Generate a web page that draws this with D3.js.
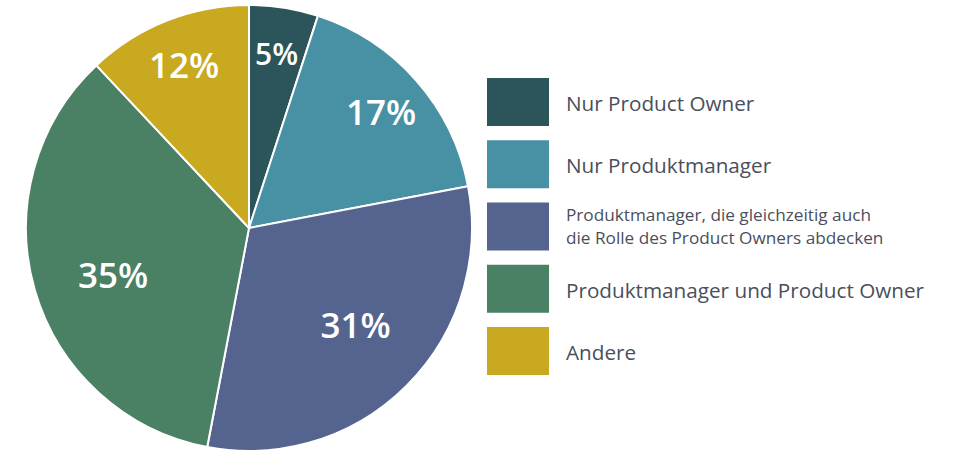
<!DOCTYPE html>
<html><head><meta charset="utf-8">
<script src="https://cdn.jsdelivr.net/npm/d3@7"></script>
<style>html,body{margin:0;padding:0;background:#fff;}svg{display:block;}</style>
</head><body>
<svg id="chart" width="967" height="458"></svg>
<script>
const categories = [
  "Nur Product Owner",
  "Nur Produktmanager",
  "Produktmanager, die gleichzeitig auch|die Rolle des Product Owners abdecken",
  "Produktmanager und Product Owner",
  "Andere"
];
const values = [5, 17, 31, 35, 12];
const colors = ["#2b555a", "#4891a5", "#54648f", "#4a8064", "#c9a920"];

const svg = d3.select("#chart");
const cx = 249, cy = 228, R = 223;
const total = d3.sum(values);

const pie = d3.pie().sort(null).value(d => d)(values);
const arc = d3.arc().innerRadius(0).outerRadius(R);

const g = svg.append("g").attr("transform", `translate(${cx},${cy})`);
g.selectAll("path").data(pie).join("path")
  .attr("d", arc)
  .attr("fill", (d, i) => colors[i])
  .attr("stroke", "#fff")
  .attr("stroke-width", 2)
  .attr("stroke-linejoin", "round");

g.selectAll("text").data(pie).join("text")
  .attr("transform", d => {
    const share = d.value / total;
    const lr = share < 0.25 ? R * 0.79 : R * 0.645;
    const a = (d.startAngle + d.endAngle) / 2 - (share < 0.25 ? 0 : 0.05);
    return `translate(${Math.sin(a) * lr},${-Math.cos(a) * lr})`;
  })
  .attr("text-anchor", "middle")
  .attr("dominant-baseline", "central")
  .attr("fill", "#fff")
  .attr("font-family", "'Open Sans', sans-serif")
  .attr("font-weight", 600)
  .attr("font-size", d => d.value < 10 ? 30 : 35)
  .text(d => d.value + "%");

// legend
const rowY = d3.scalePoint().domain(d3.range(categories.length)).range([78, 327]);
const lg = svg.append("g");
const rows = lg.selectAll("g").data(categories).join("g")
  .attr("transform", (d, i) => `translate(487,${rowY(i)})`);
rows.append("rect").attr("width", 62).attr("height", 48)
  .attr("fill", (d, i) => colors[i]);
rows.each(function(d) {
  const lines = d.split("|");
  const t = d3.select(this).append("text")
    .attr("x", 79)
    .attr("fill", "#4a4f5b")
    .attr("font-family", "'Open Sans', sans-serif");
  if (lines.length === 1) {
    t.attr("y", 25).attr("dominant-baseline", "central").attr("font-size", 20.7).text(d);
  } else {
    t.attr("font-size", 17.2);
    lines.forEach((l, k) => {
      t.append("tspan").attr("x", 79).attr("y", 18 + k * 23).text(l);
    });
  }
});
</script>
</body></html>
